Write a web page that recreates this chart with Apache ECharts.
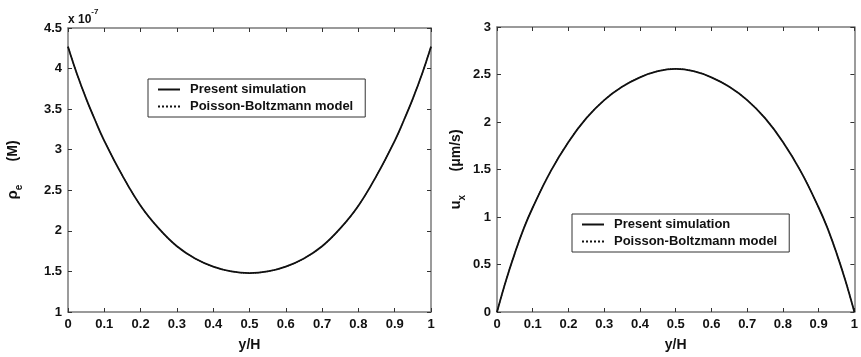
<!DOCTYPE html>
<html>
<head>
<meta charset="utf-8">
<script src="https://cdn.jsdelivr.net/npm/echarts@6/dist/echarts.min.js"></script>
<style>html,body{margin:0;padding:0;background:#fff;}#c{width:861px;height:357px;}</style>
</head>
<body>
<div id="c"></div>
<script>
// y/H positions
const yH = [0, 0.025, 0.05, 0.075, 0.1, 0.15, 0.2, 0.25, 0.3, 0.35, 0.4, 0.45, 0.5,
            0.55, 0.6, 0.65, 0.7, 0.75, 0.8, 0.85, 0.9, 0.925, 0.95, 0.975, 1];
// charge density rho_e (x 1e-7 M)
const rhoSim = [4.27, 3.93, 3.63, 3.36, 3.11, 2.68, 2.31, 2.03, 1.81, 1.66, 1.56, 1.50, 1.48,
                1.50, 1.56, 1.66, 1.81, 2.03, 2.31, 2.68, 3.11, 3.36, 3.63, 3.93, 4.27];
const rhoPB  = [4.27, 3.93, 3.63, 3.36, 3.11, 2.68, 2.31, 2.03, 1.81, 1.66, 1.56, 1.50, 1.48,
                1.50, 1.56, 1.66, 1.81, 2.03, 2.31, 2.68, 3.11, 3.36, 3.63, 3.93, 4.27];
// velocity u_x (um/s)
const uSim = [0, 0.33, 0.62, 0.88, 1.1, 1.48, 1.79, 2.04, 2.23, 2.37, 2.47, 2.535, 2.56,
              2.535, 2.47, 2.37, 2.23, 2.04, 1.79, 1.48, 1.1, 0.88, 0.62, 0.33, 0];
const uPB  = [0, 0.33, 0.62, 0.88, 1.1, 1.48, 1.79, 2.04, 2.23, 2.37, 2.47, 2.535, 2.56,
              2.535, 2.47, 2.37, 2.23, 2.04, 1.79, 1.48, 1.1, 0.88, 0.62, 0.33, 0];
const seriesNames = ['Present simulation', 'Poisson-Boltzmann model'];

const FONT = 'Liberation Sans, Arial, sans-serif';
const axisCol = '#7a7a7a';
const pair = (xs, ys) => xs.map((x, i) => [x, ys[i]]);
const fmt1 = v => String(+v.toFixed(1));

function xAx(gi, pos, labels) {
  return {
    type: 'value', gridIndex: gi, position: pos, min: 0, max: 1, interval: 0.1,
    axisLine: { show: true, onZero: false, lineStyle: { color: axisCol, width: 1.5 } },
    axisTick: { show: true, inside: true, length: 4, lineStyle: { color: '#333', width: 1 } },
    axisLabel: { show: labels, margin: 6, color: '#111', fontFamily: FONT, fontWeight: 'bold', fontSize: 13, formatter: fmt1 },
    splitLine: { show: false },
    name: labels ? 'y/H' : '', nameLocation: 'middle', nameGap: 26,
    nameTextStyle: { color: '#111', fontFamily: FONT, fontWeight: 'bold', fontSize: 14 }
  };
}
function yAx(gi, pos, labels, min, max, interval, name, gap) {
  return {
    type: 'value', gridIndex: gi, position: pos, min: min, max: max, interval: interval,
    axisLine: { show: true, onZero: false, lineStyle: { color: axisCol, width: 1.5 } },
    axisTick: { show: true, inside: true, length: 4, lineStyle: { color: '#333', width: 1 } },
    axisLabel: { show: labels, margin: 6, color: '#111', fontFamily: FONT, fontWeight: 'bold', fontSize: 13, formatter: fmt1 },
    splitLine: { show: false },
    name: labels ? name : '', nameLocation: 'middle', nameGap: gap, nameRotate: 90,
    nameTextStyle: {
      color: '#111', fontFamily: FONT, fontWeight: 'bold', fontSize: 14,
      rich: {
        m: { fontFamily: FONT, fontWeight: 'bold', fontSize: 15, color: '#111', lineHeight: 22, verticalAlign: 'middle' },
        s: { fontFamily: FONT, fontWeight: 'bold', fontSize: 10, color: '#111', lineHeight: 22, verticalAlign: 'bottom' },
        u: { fontFamily: FONT, fontWeight: 'bold', fontSize: 14, color: '#111', lineHeight: 22, verticalAlign: 'middle' }
      }
    }
  };
}
function legend(left, top) {
  return {
    show: true, left: left, top: top, orient: 'vertical', data: seriesNames,
    backgroundColor: '#fff', borderColor: '#333', borderWidth: 1,
    padding: [4, 12, 4, 9], itemWidth: 22, itemHeight: 10, itemGap: 4,
    selectedMode: false,
    itemStyle: { color: 'transparent', borderColor: 'transparent', borderWidth: 0, opacity: 0 },
    textStyle: { color: '#111', fontFamily: FONT, fontWeight: 'bold', fontSize: 13, padding: [0, 0, 0, 5] }
  };
}
function line(name, xi, yi, data, type, z) {
  return {
    name: name, type: 'line', xAxisIndex: xi, yAxisIndex: yi, data: data,
    smooth: 0.4, symbol: 'none', showSymbol: false, z: z,
    lineStyle: { color: '#111', width: type === 'solid' ? 1.8 : 1.2, type: type },
    itemStyle: { color: '#111' }, animation: false
  };
}

const chart = echarts.init(document.getElementById('c'));
chart.setOption({
  backgroundColor: '#fff',
  animation: false,
  grid: [
    { left: 68, top: 28, width: 363, height: 285 },
    { left: 497, top: 27, width: 363, height: 286 }
  ],
  xAxis: [xAx(0, 'bottom', true), xAx(0, 'top', false), xAx(1, 'bottom', true), xAx(1, 'top', false)],
  yAxis: [
    yAx(0, 'left', true, 1, 4.5, 0.5, '{m|ρ}{s|e}{u|      (M)}', 44),
    yAx(0, 'right', false, 1, 4.5, 0.5, '', 0),
    yAx(1, 'left', true, 0, 3, 0.5, '{m|u}{s|x}{u|      (μm/s)}', 30),
    yAx(1, 'right', false, 0, 3, 0.5, '', 0)
  ],
  legend: [legend(148, 79), legend(572, 214)],
  graphic: [{
    type: 'text', left: 68, top: 8,
    style: {
      text: '{a|x 10}{b|-7}',
      rich: {
        a: { fontFamily: FONT, fontWeight: 'bold', fontSize: 12, fill: '#111', lineHeight: 18, verticalAlign: 'bottom' },
        b: { fontFamily: FONT, fontWeight: 'bold', fontSize: 8, fill: '#111', lineHeight: 18, verticalAlign: 'top' }
      }
    }
  }],
  series: [
    line(seriesNames[0], 0, 0, pair(yH, rhoSim), 'solid', 3),
    line(seriesNames[1], 0, 0, pair(yH, rhoPB), 'dotted', 4),
    line(seriesNames[0], 2, 2, pair(yH, uSim), 'solid', 3),
    line(seriesNames[1], 2, 2, pair(yH, uPB), 'dotted', 4)
  ]
});
</script>
</body>
</html>
